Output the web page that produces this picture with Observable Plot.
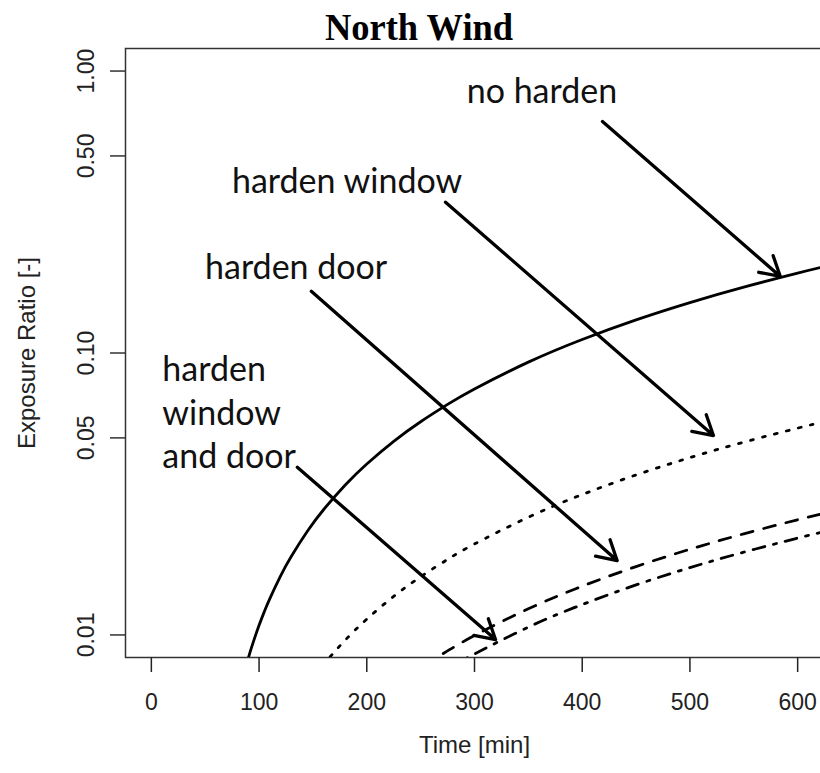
<!DOCTYPE html>
<html><head><meta charset="utf-8">
<script src="https://cdn.jsdelivr.net/npm/d3@7"></script>
<script src="https://cdn.jsdelivr.net/npm/@observablehq/plot@0.6"></script>
<style>
body{margin:0;background:#fff;}
#wrap{width:820px;height:773px;overflow:hidden;position:relative;background:#fff;}
#title{box-sizing:border-box;width:820px;height:40px;padding-left:18px;text-align:center;font:bold 38px "Liberation Serif","Times New Roman",serif;line-height:40px;}
#title span{position:relative;top:7px;display:inline-block;transform:scaleX(0.96);}
#chart svg{display:block;overflow:hidden;}
</style></head><body>
<div id="wrap"><div id="title"><span>North Wind</span></div><div id="chart"></div></div>
<script>
// Axis limits and ticks
const xDomain = [-24, 624];
const yDomain = [0.008318, 1.2023];
const xTicks = [0, 100, 200, 300, 400, 500, 600];
const yTicks = [0.01, 0.05, 0.10, 0.50, 1.00];
const yTickLabels = ["0.01", "0.05", "0.10", "0.50", "1.00"];

// Series: no harden (solid)
const tNo = [89, 92, 95, 100, 105, 110, 120, 130, 145, 160, 180, 200, 225, 250, 275, 300, 350, 400, 450, 500, 550, 600, 625];
const vNo = [0.00803, 0.00878, 0.00953, 0.01082, 0.01213, 0.01346, 0.01620, 0.01901, 0.02336, 0.02786, 0.03404, 0.04041, 0.04862, 0.05705, 0.06573, 0.07459, 0.09283, 0.1117, 0.1311, 0.1510, 0.1713, 0.1920, 0.2025];
// harden window (dotted)
const tWin = [166, 180, 200, 225, 250, 275, 300, 350, 400, 450, 500, 550, 600, 625];
const vWin = [0.00837, 0.00959, 0.01138, 0.01370, 0.01608, 0.01853, 0.02102, 0.02616, 0.03148, 0.03694, 0.04255, 0.04829, 0.05414, 0.05711];
// harden door (dashed)
const tDoor = [271, 300, 350, 400, 450, 500, 550, 600, 625];
const vDoor = [0.00859, 0.00995, 0.01238, 0.01489, 0.01748, 0.02013, 0.02284, 0.02562, 0.02702];
// harden window and door (dot-dash)
const tBoth = [293, 300, 350, 400, 450, 500, 550, 600, 625];
const vBoth = [0.00828, 0.00856, 0.01066, 0.01282, 0.01505, 0.01733, 0.01966, 0.02206, 0.02326];

// Annotations
const labelText = ["no harden", "harden window", "harden door", "harden\nwindow\nand door"];
const labelT = [362.6, 181.7, 134.4, 10.2];
const labelV = [0.841, 0.4025, 0.1994, 0.0625];
const arrowT1 = [418.8, 273.1, 148.5, 135.5];
const arrowV1 = [0.6625, 0.3427, 0.1656, 0.03935];
const arrowT2 = [583.9, 521.8, 432.4, 319.5];
const arrowV2 = [0.1868, 0.05097, 0.01836, 0.00963];

const toRows = (ts, vs) => ts.map((t, i) => ({t, v: vs[i]}));
const labels = labelText.map((s, i) => ({s, t: labelT[i], v: labelV[i]}));
const arrows = arrowT1.map((t, i) => ({t1: t, v1: arrowV1[i], t2: arrowT2[i], v2: arrowV2[i]}));

const lineOpts = {x: "t", y: "v", stroke: "black", strokeWidth: 2.8, curve: "natural", clip: true};
const labFont = "Lato, 'Open Sans', sans-serif";

const plot = Plot.plot({
  width: 820, height: 733,
  marginLeft: 125, marginRight: -3, marginTop: 8, marginBottom: 116,
  style: {background: "white", fontFamily: "'Liberation Sans', Arial, sans-serif", overflow: "hidden"},
  x: {domain: xDomain},
  y: {type: "log", domain: yDomain},
  marks: [
    Plot.frame({stroke: "#333", strokeWidth: 1.5}),
    Plot.axisX({ticks: xTicks, tickSize: 15, tickPadding: 21, fontSize: 23, label: null, strokeWidth: 1.5, color: "#222"}),
    Plot.axisY({ticks: yTicks, tickSize: 15, tickFormat: () => "", label: null, strokeWidth: 1.5, color: "#333"}),
    Plot.text(yTicks, {y: d => d, text: (d, i) => yTickLabels[i], frameAnchor: "left", dx: -32, rotate: -90, lineAnchor: "bottom", textAnchor: "middle", fontSize: 23, fill: "#222"}),
    Plot.text(["Exposure Ratio [-]"], {text: d => d, frameAnchor: "left", dx: -91, rotate: -90, lineAnchor: "bottom", textAnchor: "middle", fontSize: 24, fill: "#222"}),
    Plot.text(["Time [min]"], {text: d => d, frameAnchor: "bottom", dy: 88, lineAnchor: "middle", fontSize: 24, fill: "#222"}),
    Plot.line(toRows(tNo, vNo), {...lineOpts}),
    Plot.line(toRows(tWin, vWin), {...lineOpts, strokeDasharray: "2.8 9.5"}),
    Plot.line(toRows(tDoor, vDoor), {...lineOpts, strokeDasharray: "12 11"}),
    Plot.line(toRows(tBoth, vBoth), {...lineOpts, strokeDasharray: "3 9 12 9"}),
    Plot.arrow(arrows, {x1: "t1", y1: "v1", x2: "t2", y2: "v2", stroke: "black", strokeWidth: 3.3, headLength: 10, headAngle: 60}),
    Plot.text(labels.slice(0, 3), {x: "t", y: "v", text: "s", fontSize: 34, fontFamily: labFont, textAnchor: "middle", lineAnchor: "middle", fill: "#111"}),
    Plot.text(labels.slice(3), {x: "t", y: "v", text: "s", fontSize: 34, fontFamily: labFont, textAnchor: "start", lineAnchor: "middle", lineHeight: 1.29, fill: "#111"})
  ]
});
document.getElementById("chart").appendChild(plot);
</script></body></html>
